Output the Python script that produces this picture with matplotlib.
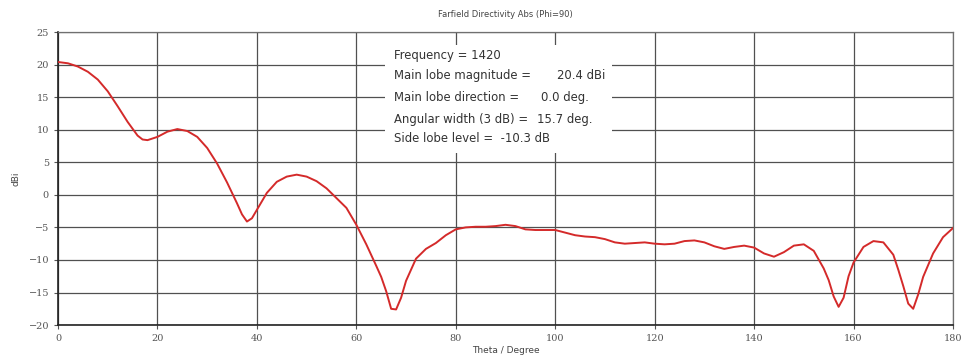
import numpy as np
import matplotlib.pyplot as plt
from matplotlib.patches import Rectangle

# farfield cut, phi = 90
theta = [0, 2, 4, 6, 8, 10, 12, 14, 16, 17, 18, 20, 22, 24, 26, 28, 30, 32, 34, 36,
         37, 38, 39, 40, 42, 44, 46, 48, 50, 52, 54, 56, 58, 60, 62, 64, 65, 66, 67, 68,
         69, 70, 72, 74, 76, 78, 80, 82, 84, 86, 88, 90, 92, 94, 96, 98, 100, 102, 104,
         106, 108, 110, 112, 114, 116, 118, 120, 122, 124, 126, 128, 130, 132, 134, 136,
         138, 140, 142, 144, 146, 148, 150, 152, 154, 155, 156, 157, 158, 159, 160, 162,
         164, 166, 168, 169, 170, 171, 172, 173, 174, 176, 178, 180]
dbi = [20.4, 20.2, 19.7, 18.9, 17.7, 15.9, 13.6, 11.2, 9.1, 8.5, 8.4, 8.9, 9.7, 10.1,
       9.8, 8.9, 7.2, 4.8, 1.9, -1.3, -3.0, -4.1, -3.6, -2.3, 0.3, 2.0, 2.8, 3.1, 2.8,
       2.1, 1.0, -0.5, -2.0, -4.6, -7.6, -10.9, -12.6, -14.8, -17.5, -17.6, -15.8, -13.2,
       -9.8, -8.3, -7.4, -6.2, -5.3, -5.0, -4.9, -4.9, -4.8, -4.6, -4.8, -5.3, -5.4, -5.4,
       -5.4, -5.8, -6.2, -6.4, -6.5, -6.8, -7.3, -7.5, -7.4, -7.3, -7.5, -7.6, -7.5, -7.1,
       -7.0, -7.3, -7.9, -8.3, -8.0, -7.8, -8.1, -9.0, -9.5, -8.8, -7.8, -7.6, -8.6, -11.3,
       -13.1, -15.6, -17.2, -15.8, -12.5, -10.4, -8.0, -7.1, -7.3, -9.2, -11.5, -14.0,
       -16.7, -17.5, -15.3, -12.6, -9.0, -6.5, -5.1]

x_ticks = [0, 20, 40, 60, 80, 100, 120, 140, 160, 180]
y_ticks = [-20, -15, -10, -5, 0, 5, 10, 15, 20, 25]

info_labels = ["Frequency = 1420", "Main lobe magnitude =", "Main lobe direction =",
               "Angular width (3 dB) =", "Side lobe level =  -10.3 dB"]
info_values = ["", "20.4 dBi", "0.0 deg.", "15.7 deg.", ""]
value_x = [0, 0.5575, 0.5397, 0.5352, 0]
line_y = [0.921, 0.853, 0.778, 0.703, 0.635]

fig = plt.figure(figsize=(9.67, 3.6), dpi=100)
ax = fig.add_axes([0.06, 0.097, 0.9255, 0.814])

ax.plot(theta, dbi, color="#d42a2a", linewidth=1.4, zorder=4)

ax.set_xlim(0, 180)
ax.set_ylim(-20, 25)
ax.set_xticks(x_ticks)
ax.set_yticks(y_ticks)
ax.grid(True, color="#505050", linewidth=0.9, zorder=1)
ax.set_axisbelow(True)

for s in ["top", "right"]:
    ax.spines[s].set_color("#707070")
    ax.spines[s].set_linewidth(0.9)
for s in ["left", "bottom"]:
    ax.spines[s].set_color("#222222")
    ax.spines[s].set_linewidth(1.2)

ax.tick_params(axis="both", labelsize=7, colors="#555555", length=3, width=0.8)
for lab in ax.get_xticklabels() + ax.get_yticklabels():
    lab.set_family("DejaVu Serif")

ax.set_xlabel("Theta / Degree", fontsize=6.5, color="#444444", labelpad=2)
ax.set_ylabel("dBi", fontsize=6.5, color="#444444", labelpad=6)
ax.set_title("Farfield Directivity Abs (Phi=90)", fontsize=6, color="#444444", pad=11)

# white info box over the grid
ax.add_patch(Rectangle((0.365, 0.587), 0.254, 0.37, transform=ax.transAxes,
                       facecolor="white", edgecolor="none", zorder=2))
for lab, val, vx, y in zip(info_labels, info_values, value_x, line_y):
    ax.text(0.375, y, lab, transform=ax.transAxes, fontsize=8.4, color="#333333",
            va="center", zorder=3)
    if val:
        ax.text(vx, y, val, transform=ax.transAxes, fontsize=8.4, color="#333333",
                va="center", zorder=3)

fig.savefig("out.png", dpi=100)
